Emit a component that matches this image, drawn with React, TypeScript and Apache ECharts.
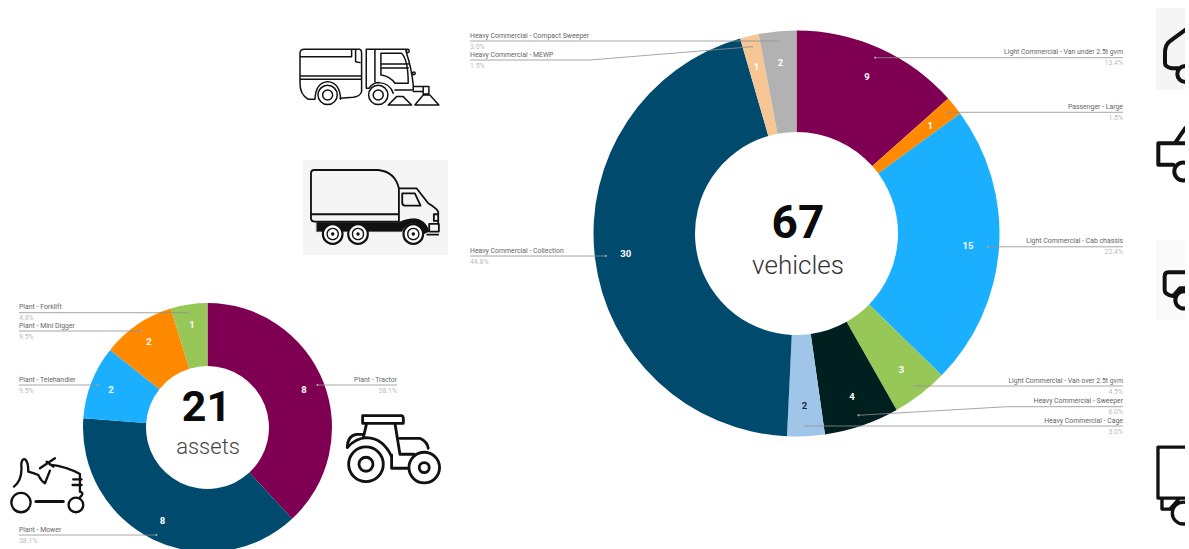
import React, { useEffect, useRef } from "react";
import * as echarts from "echarts";

const vehicleNames = [
  "Light Commercial - Van under 2.5t gvm",
  "Passenger - Large",
  "Light Commercial - Cab chassis",
  "Light Commercial - Van over 2.5t gvm",
  "Heavy Commercial - Sweeper",
  "Heavy Commercial - Cage",
  "Heavy Commercial - Collection",
  "Heavy Commercial - MEWP",
  "Heavy Commercial - Compact Sweeper",
];
const vehicleValues = [9, 1, 15, 3, 4, 2, 30, 1, 2];
const vehicleColors = ["#7f0053", "#ff8a00", "#1aafff", "#97c857", "#00201f", "#9fc5e8", "#004a6e", "#f6c695", "#b2b2b2"];

const assetNames = ["Plant - Tractor", "Plant - Mower", "Plant - Telehandler", "Plant - Mini Digger", "Plant - Forklift"];
const assetValues = [8, 8, 2, 2, 1];
const assetColors = ["#7f0053", "#004a6e", "#1aafff", "#ff8a00", "#97c857"];

// Leader-line layout: y of the label's rule, its far end, and an optional elbow
const vehicleLeaders = [
  { y: 57.7, end: 1123 },
  { y: 112.3, end: 1123 },
  { y: 246.8, end: 1123 },
  { y: 386, end: 1123 },
  { y: 406.7, end: 1123, elbow: 1007 },
  { y: 426, end: 1123 },
  { y: 256, end: 470 },
  { y: 60, end: 470, elbow: 590 },
  { y: 41, end: 470 },
];
const assetLeaders = [
  { y: 385, end: 397 },
  { y: 535, end: 19 },
  { y: 385, end: 19 },
  { y: 331, end: 19 },
  { y: 312.7, end: 19 },
];

const circle = (cx: number, cy: number, r: number) =>
  `M${cx - r} ${cy}a${r} ${r} 0 1 0 ${2 * r} 0a${r} ${r} 0 1 0 ${-2 * r} 0Z`;

const icons: Record<string, string> = {
  sweeper:
    "M15 40Q15 28 28 28H195Q200 30 200 40V155Q195 170 175 172L135 175M60 178H40Q15 165 15 130V40" +
    "M15 108H200M15 118H200M18 50H170V28M182 30V65L195 68" +
    "M60 178Q62 128 98 125Q135 128 137 178" +
    circle(98, 165, 29) + circle(98, 165, 15) +
    "M214 28V145H222Q235 128 252 128Q285 130 295 160M240 28V125M214 28H335V40Q350 85 355 135V150H300" +
    "M258 40H320Q340 60 340 130H300Q285 108 258 105V40M258 72H340M258 84H340" +
    circle(250, 165, 29) + circle(250, 165, 15) +
    "M355 140H385M355 155H385M385 140H402V162H385Z" +
    "M280 195H350L325 170H305ZM360 195H432L405 165H385Z" +
    circle(338, 33, 5) + circle(357, 100, 4),
  truck:
    "M33 40Q33 30 43 30H235Q285 35 297 85V185H45Q33 185 33 175ZM35 163H297" +
    "M297 85H350L385 130Q410 145 415 155V163M307 100H345L362 137H315Q307 137 307 128Z" +
    "M388 192H417V215H388ZM402 163H415V183H402ZM415 183V192M382 224H415",
  truckChassis: "M50 187H297Q320 176 342 176Q378 178 388 215L372 222Q365 190 340 190Q315 192 306 215H50Z",
  tractor:
    "M68 32H185Q192 32 190 55H68ZM80 55L70 98M165 55L180 148" +
    "M180 100H240Q262 110 265 130M180 148H222M155 150V190H205" +
    "M22 128Q22 92 50 88H70M22 128Q45 100 80 98Q130 100 155 155" +
    circle(78, 178, 52) + circle(78, 178, 21) + circle(253, 188, 46) + circle(253, 188, 15),
  mower:
    "M42 110Q68 90 64 45Q65 25 75 28Q85 35 85 65Q105 70 115 75Q125 95 135 100L150 62" +
    "M120 55L165 25M140 35L160 50M150 44Q200 50 240 72V125Q255 130 240 142M220 88H245M218 105H245" +
    circle(63, 158, 29) + circle(228, 165, 22),
  mowerAxle: "M108 155H190",
  edge1: "M136 90L88 125Q75 135 75 160V190Q75 200 95 205H118" + circle(136, 222, 24),
  edge2: "M136 385L105 430H55V495H100M105 430H136" + circle(130, 515, 27),
  edge3: "M136 127H85Q74 127 74 140V180Q74 195 100 198M100 198L120 175H136" + circle(132, 210, 26),
  edge4: "M136 652H54V805H136M66 808V838H90M90 838L115 810" + circle(130, 850, 33),
};
Object.entries(icons).forEach(([name, d]) => {
  echarts.graphic.registerShape(name, echarts.graphic.extendPath(d as any, {}) as any);
});

const FONT = "Roboto";

function makeRing(
  names: string[], values: number[], colors: string[], leaders: { y: number; end: number }[],
  center: number[], r0: number, r: number, anchorR: number, valueR0: number,
) {
  const total = values.reduce((a, b) => a + b, 0);
  const rows = names.map((name, i) => ({ name, value: values[i] }));
  const base = { type: "pie", center, startAngle: 90, clockwise: true, silent: true, avoidLabelOverlap: false, animation: false };
  return [
    {
      ...base, radius: [r0, r], data: rows.map((d, i) => ({ ...d, itemStyle: { color: colors[i] } })),
      label: { show: false }, labelLine: { show: false },
    },
    {
      ...base, radius: [valueR0, r], itemStyle: { color: "transparent" },
      labelLine: { show: false },
      data: rows.map((d, i) => ({
        ...d,
        label: { color: colors[i] === "#9fc5e8" ? "#0b2a4a" : "#ffffff" },
      })),
      label: { show: true, position: "inside", formatter: "{c}", fontFamily: FONT, fontSize: 9.5, fontWeight: "bold" },
    },
    {
      ...base, radius: [0, anchorR], itemStyle: { color: "transparent" }, data: rows,
      labelLine: { show: false },
      label: {
        show: true, position: "outside",
        formatter: (p: any) => `{n|${p.name}}\n{p|${((p.value / total) * 100).toFixed(1)}%}`,
        rich: {
          n: { fontFamily: FONT, fontSize: 6.9, color: "#666666", lineHeight: 11 },
          p: { fontFamily: FONT, fontSize: 6.9, color: "#bbbbbb", lineHeight: 11 },
        },
      },
      labelLayout: (p: any) => {
        const l = leaders[p.dataIndex];
        const right = l.end > center[0];
        return { x: l.end, y: l.y, align: right ? "right" : "left", verticalAlign: "middle", hideOverlap: false, moveOverlap: false };
      },
    },
  ];
}

function makeLeaders(values: number[], leaders: { y: number; end: number; elbow?: number }[], center: number[], anchorR: number) {
  const total = values.reduce((a, b) => a + b, 0);
  let cum = 0;
  const out: any[] = [];
  values.forEach((v, i) => {
    const mid = ((cum + v / 2) / total) * Math.PI * 2;
    cum += v;
    const ax = center[0] + Math.sin(mid) * anchorR;
    const ay = center[1] - Math.cos(mid) * anchorR;
    const l = leaders[i];
    const pts = l.elbow ? [[ax, ay], [l.elbow, l.y], [l.end, l.y]] : [[ax, l.y], [l.end, l.y]];
    out.push({ type: "polyline", z: 20, silent: true, shape: { points: pts }, style: { fill: "none", stroke: "#8f8f8f", lineWidth: 0.8 } });
    out.push({ type: "circle", z: 20, silent: true, shape: { cx: pts[0][0], cy: pts[0][1], r: 1 }, style: { fill: "#a8a8a8" } });
  });
  return out;
}

const icon = (type: string, x: number, y: number, lineWidth: number, extra: any = {}) => ({
  type, x, y, scaleX: 1 / 3, scaleY: 1 / 3, z: 5, silent: true,
  style: { fill: "none", stroke: "#111111", lineWidth, lineJoin: "round", lineCap: "round", ...extra },
});
const rect = (x: number, y: number, width: number, height: number, fill: string, z = 2) => ({
  type: "rect", z, silent: true, shape: { x, y, width, height }, style: { fill },
});
const wheel = (cx: number, cy: number) => [
  { type: "circle", z: 6, silent: true, shape: { cx, cy, r: 9.8 }, style: { fill: "#fff", stroke: "#111", lineWidth: 2.2 } },
  { type: "circle", z: 6, silent: true, shape: { cx, cy, r: 5.6 }, style: { fill: "#fff", stroke: "#111", lineWidth: 1.3 } },
  { type: "circle", z: 6, silent: true, shape: { cx, cy, r: 1.7 }, style: { fill: "#111" } },
];
const centerText = (text: string, x: number, y: number, fontSize: number, fontWeight: any, fill: string) => ({
  type: "text", z: 10, silent: true, x, y,
  style: { text, fontFamily: FONT, fontSize, fontWeight, fill, align: "center", verticalAlign: "middle" },
});

export default function App() {
  const ref = useRef<HTMLDivElement>(null);
  useEffect(() => {
    document.body.style.margin = "0";
    const chart = echarts.init(ref.current!, undefined, { renderer: "svg" });
    const bigC = [796.5, 233.5];
    const smallC = [207.5, 427.5];
    chart.setOption({
      animation: false,
      backgroundColor: "#ffffff",
      series: [
        ...makeRing(vehicleNames, vehicleValues, vehicleColors, vehicleLeaders, bigC, 101.5, 203, 192, 135),
        ...makeRing(assetNames, assetValues, assetColors, assetLeaders, smallC, 61.5, 124.5, 118, 77),
      ],
      graphic: {
        elements: [
          ...makeLeaders(vehicleValues, vehicleLeaders, bigC, 192),
          ...makeLeaders(assetValues, assetLeaders, smallC, 118),
          centerText("67", 798, 222, 46, 700, "#0a0a0a"),
          centerText("vehicles", 798, 265, 26, 300, "#333333"),
          centerText("21", 206.5, 406, 43, 700, "#0a0a0a"),
          centerText("assets", 208, 446, 22, 300, "#444444"),
          // pictograms
          icon("sweeper", 295, 40, 4.5),
          rect(303, 160, 145, 95, "#f5f5f5"),
          icon("truckChassis", 300, 160, 1, { fill: "#111111" }),
          icon("truck", 300, 160, 5.5),
          ...wheel(332.7, 234), ...wheel(358, 234), ...wheel(413.3, 234),
          icon("tractor", 340, 405, 8.5),
          icon("mower", 0, 450, 7),
          icon("mowerAxle", 0, 450, 9),
          rect(1156, 8, 29, 82, "#f5f5f5"),
          rect(1156, 240, 29, 80, "#fafafa"),
          icon("edge1", 1140, 0, 12),
          icon("edge2", 1140, 0, 12),
          icon("edge3", 1140, 230, 12),
          icon("edge4", 1140, 230, 10),
          rect(1185, 0, 4, 549, "#ffffff", 8),
        ],
      },
    });
    return () => chart.dispose();
  }, []);
  return <div ref={ref} style={{ position: "absolute", left: 0, top: 0, width: 1189, height: 549, overflow: "hidden" }} />;
}
